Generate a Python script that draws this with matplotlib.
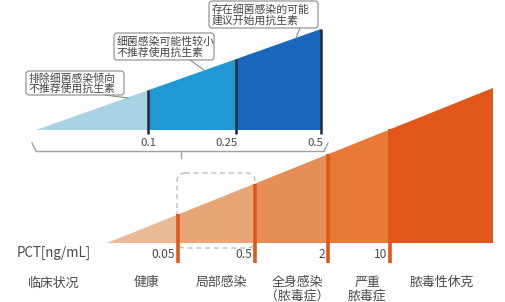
import matplotlib
matplotlib.use("Agg")
import matplotlib.pyplot as plt
from matplotlib.patches import Polygon, FancyBboxPatch

plt.rcParams['font.family'] = ['Noto Sans CJK SC', 'DejaVu Sans']

# ---- data ----
top_thresholds = ["0.1", "0.25", "0.5"]
top_notes = ["排除细菌感染倾向\n不推荐使用抗生素",
             "细菌感染可能性较小\n不推荐使用抗生素",
             "存在细菌感染的可能\n建议开始用抗生素"]
pct_thresholds = ["0.05", "0.5", "2", "10"]
axis_label = "PCT[ng/mL]"
row_label = "临床状况"
clinical = ["健康", "局部感染", "全身感染\n（脓毒症）", "严重\n脓毒症", "脓毒性休克"]

# ---- layout (pixels) ----
W, H = 506, 302
fig = plt.figure(figsize=(W / 100, H / 100), dpi=100)
ax = fig.add_axes([0, 0, 1, 1])
ax.set_xlim(0, W)
ax.set_ylim(H, 0)
ax.axis("off")
TXT = "#4a4a4a"

# top (blue) wedge
tx0, tx1, tbase, ttop = 36, 321, 130, 29
tbreaks = [tx0, 148, 236, tx1]
tcolors = ["#a9d3e4", "#1f98d4", "#1a68bd"]
def ttopy(x):
    return tbase - (tbase - ttop) * (x - tx0) / (tx1 - tx0)
for i in range(3):
    a, b = tbreaks[i], tbreaks[i + 1]
    ax.add_patch(Polygon([(a, tbase), (a, ttopy(a)), (b, ttopy(b)), (b, tbase)],
                         closed=True, fc=tcolors[i], ec="none"))
for x in tbreaks[1:]:
    ax.plot([x, x], [ttopy(x), tbase + 4], color="#1c2b3a", lw=1.8, solid_capstyle="butt")
# bracket
ax.plot([36, 324], [151, 151], color="#9aa3a8", lw=1.0)
ax.plot([32, 36], [143, 151], color="#9aa3a8", lw=1.0)
ax.plot([324, 328], [151, 143], color="#9aa3a8", lw=1.0)
ax.plot([181, 181], [151, 158], color="#9aa3a8", lw=1.0)
for x, lab in zip(tbreaks[1:], top_thresholds):
    ax.text(x + 2 if lab != "0.1" else x, 143, lab,
            ha="right" if lab != "0.1" else "center",
            va="center", fontsize=8.2, color=TXT)

# callouts
boxes = [(26, 71, 98, 24), (114, 33, 100, 27), (209, 1, 109, 27)]
pointers = [((105, 95), (128, 98)), ((190, 60), (204, 70)), ((300, 28), (296, 38))]
for (bx, by, bw, bh), note, (p0, p1) in zip(boxes, top_notes, pointers):
    ax.add_patch(FancyBboxPatch((bx, by), bw, bh, boxstyle="round,pad=0,rounding_size=3",
                                fc="white", ec="#8a8a8a", lw=0.8))
    ax.plot([p0[0], p1[0]], [p0[1], p1[1]], color="#8a8a8a", lw=0.8)
    ax.text(bx + 3, by + bh / 2 + 0.5, note, ha="left", va="center", fontsize=7.8,
            color="#444444", linespacing=0.98, weight="medium")

# bottom (orange) wedge
bx0, bx1, bbase, btop = 107, 493, 243, 88
bbreaks = [bx0, 178, 255, 328, 390, bx1]
bcolors = ["#eab995", "#e8a676", "#e58f56", "#e97937", "#e2561a"]
def btopy(x):
    return bbase - (bbase - btop) * (x - bx0) / (bx1 - bx0)
for i in range(5):
    a, b = bbreaks[i], bbreaks[i + 1]
    ax.add_patch(Polygon([(a, bbase), (a, btopy(a)), (b, btopy(b)), (b, bbase)],
                         closed=True, fc=bcolors[i], ec="none"))
# dashed zoom box
ax.add_patch(FancyBboxPatch((177, 173), 78, 75, boxstyle="round,pad=0,rounding_size=8",
                            fc="none", ec="#a9b9c6", lw=0.9, ls=(0, (4, 3))))
for x in bbreaks[1:5]:
    ax.plot([x, x], [btopy(x), 263], color="#e2561a", lw=2.6, solid_capstyle="butt")

ax.text(17, 253, axis_label, ha="left", va="center", fontsize=9.6, color=TXT)
for x, lab in zip(bbreaks[1:5], pct_thresholds):
    ax.text(x - 3, 255, lab, ha="right", va="center", fontsize=8.6, color=TXT)

ax.text(54, 283, row_label, ha="center", va="center", fontsize=9.3, color=TXT,
        weight="medium")
cx = [146, 221, 297, 367, 442]
for x, lab in zip(cx, clinical):
    ax.text(x, 276, lab, ha="center", va="top", fontsize=9.3, color=TXT,
            linespacing=1.05, weight="medium")

fig.savefig("out.png", dpi=100)
